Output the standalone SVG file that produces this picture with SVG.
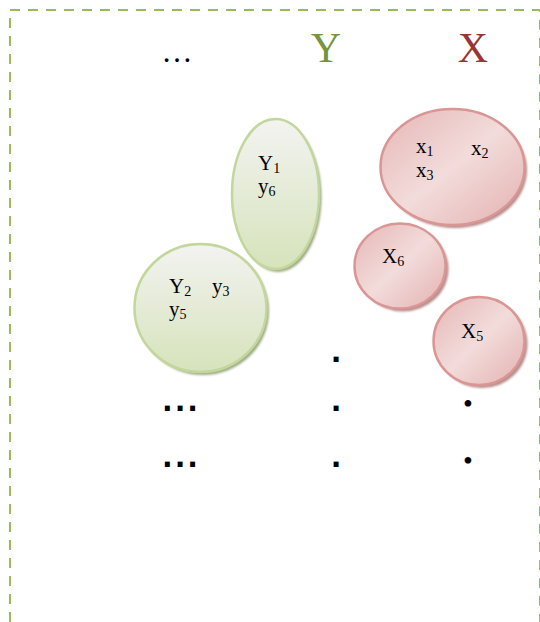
<svg xmlns="http://www.w3.org/2000/svg" width="540" height="622" viewBox="0 0 540 622">
<defs>
<linearGradient id="gGreen" x1="0" y1="0" x2="0" y2="1">
<stop offset="0" stop-color="#f3f3f1"/>
<stop offset="1" stop-color="#d6e3bb"/>
</linearGradient>
<linearGradient id="gRed" x1="0" y1="0" x2="1" y2="1">
<stop offset="0" stop-color="#e5b6b5"/>
<stop offset="0.5" stop-color="#f2dcdb"/>
<stop offset="1" stop-color="#e3b1b0"/>
</linearGradient>
<filter id="blur" x="-10%" y="-10%" width="120%" height="120%">
<feGaussianBlur stdDeviation="1"/>
</filter>
</defs>
<style>
.frame{fill:none;stroke:#9bbb59;stroke-width:2;stroke-dasharray:10 8}
.gshadow{fill:#9eab84;filter:url(#blur)}
.rshadow{fill:#b68e8d;filter:url(#blur)}
.green{fill:url(#gGreen);stroke:#c3d69b;stroke-width:2.5}
.red{fill:url(#gRed);stroke:#d99694;stroke-width:2.5}
.lbl{font-family:"Liberation Serif","Times New Roman",serif;font-size:21px;fill:#000}
.sub{font-size:14px}
.hdr{font-family:"Liberation Serif","Times New Roman",serif;font-size:42px}
.sq{font-family:"DejaVu Sans",sans-serif;font-size:28px;font-weight:bold;fill:#000}
.bul{font-family:"Liberation Serif","Times New Roman",serif;font-size:28px;fill:#000}
</style>
<rect class="frame" x="10" y="10" width="530" height="640"/>
<g id="header">
<text class="lbl" x="177" y="62" text-anchor="middle" style="font-size:31px">…</text>
<text class="hdr" x="326" y="62" text-anchor="middle" fill="#77933c">Y</text>
<text class="hdr" x="473" y="62" text-anchor="middle" fill="#953735">X</text>
</g>
<g id="connectors"/>
<g id="nodeY1">
<ellipse class="gshadow" cx="278" cy="197" rx="43.5" ry="75"/>
<ellipse class="green" cx="275.5" cy="194" rx="43.5" ry="75"/>
<text class="lbl" x="258" y="170">Y<tspan class="sub" dy="3">1</tspan></text>
<text class="lbl" x="258" y="193">y<tspan class="sub" dy="3">6</tspan></text>
</g>
<g id="nodeY2">
<ellipse class="gshadow" cx="203" cy="311" rx="66" ry="64"/>
<ellipse class="green" cx="200.5" cy="308" rx="66" ry="64"/>
<text class="lbl" x="169" y="293">Y<tspan class="sub" dy="3">2</tspan></text>
<text class="lbl" x="212" y="293">y<tspan class="sub" dy="3">3</tspan></text>
<text class="lbl" x="169" y="316">y<tspan class="sub" dy="3">5</tspan></text>
</g>
<g id="nodeX123">
<ellipse class="rshadow" cx="455" cy="170" rx="72" ry="58"/>
<ellipse class="red" cx="452.5" cy="167" rx="72" ry="58"/>
<text class="lbl" x="416" y="153">x<tspan class="sub" dy="3">1</tspan></text>
<text class="lbl" x="471" y="155">x<tspan class="sub" dy="3">2</tspan></text>
<text class="lbl" x="416" y="177">x<tspan class="sub" dy="3">3</tspan></text>
</g>
<g id="nodeX6">
<ellipse class="rshadow" cx="403" cy="269" rx="45.5" ry="42.5"/>
<ellipse class="red" cx="400" cy="266" rx="45.5" ry="42.5"/>
<text class="lbl" x="382" y="263">X<tspan class="sub" dy="3">6</tspan></text>
</g>
<g id="nodeX5">
<ellipse class="rshadow" cx="482" cy="344" rx="45.5" ry="44"/>
<ellipse class="red" cx="479" cy="341" rx="45.5" ry="44"/>
<text class="lbl" x="461" y="338">X<tspan class="sub" dy="3">5</tspan></text>
</g>
<g id="dots">
<text class="sq" x="181" y="411" text-anchor="middle" letter-spacing="2">...</text>
<text class="sq" x="181" y="467" text-anchor="middle" letter-spacing="2">...</text>
<text class="sq" x="336" y="362" text-anchor="middle">.</text>
<text class="sq" x="336" y="411" text-anchor="middle">.</text>
<text class="sq" x="336" y="467" text-anchor="middle">.</text>
<text class="bul" x="468" y="413" text-anchor="middle">•</text>
<text class="bul" x="468" y="470" text-anchor="middle">•</text>
</g>
</svg>
